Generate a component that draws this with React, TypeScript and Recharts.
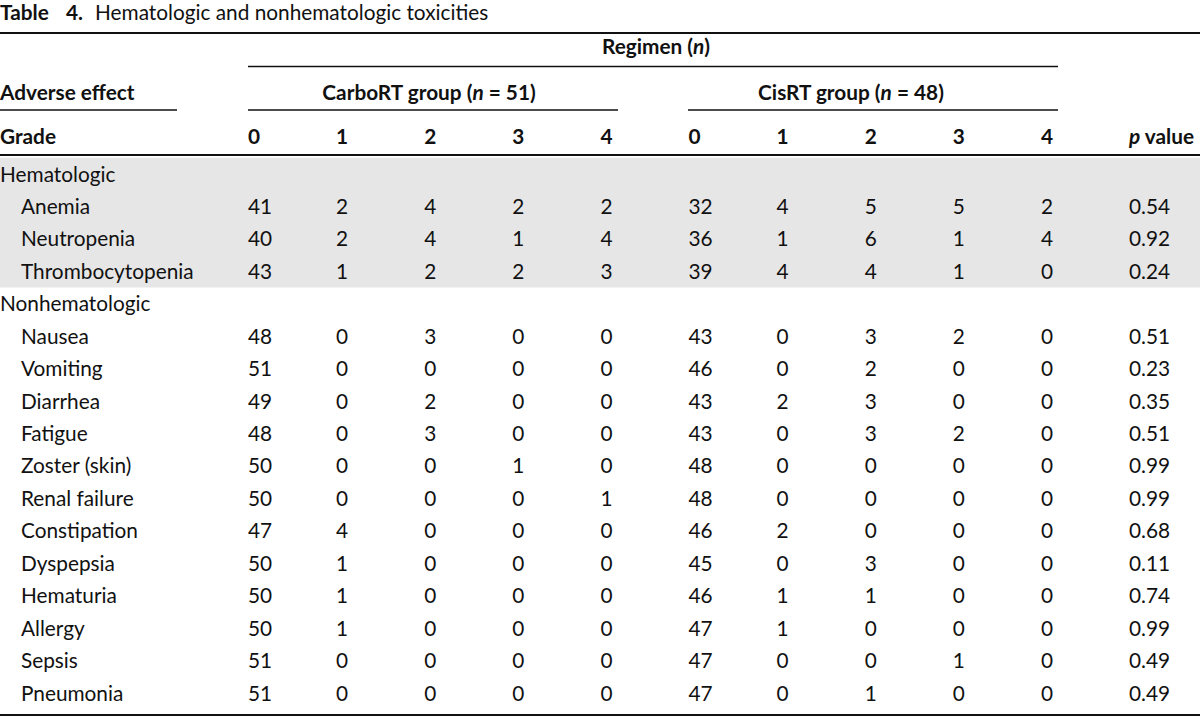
import {
  Customized,
  ReferenceArea,
  Scatter,
  ScatterChart,
  XAxis,
  YAxis,
} from 'recharts';

const FONT = 'Lato, "Open Sans", sans-serif';
const FS = 20.8;
const INK = '#111111';

// table data
const hematologicEffects = ['Anemia', 'Neutropenia', 'Thrombocytopenia'];
const nonhematologicEffects = [
  'Nausea',
  'Vomiting',
  'Diarrhea',
  'Fatigue',
  'Zoster (skin)',
  'Renal failure',
  'Constipation',
  'Dyspepsia',
  'Hematuria',
  'Allergy',
  'Sepsis',
  'Pneumonia',
];

// grade 0..4 counts, one row per effect (hematologic first)
const carboRT = [
  [41, 2, 4, 2, 2],
  [40, 2, 4, 1, 4],
  [43, 1, 2, 2, 3],
  [48, 0, 3, 0, 0],
  [51, 0, 0, 0, 0],
  [49, 0, 2, 0, 0],
  [48, 0, 3, 0, 0],
  [50, 0, 0, 1, 0],
  [50, 0, 0, 0, 1],
  [47, 4, 0, 0, 0],
  [50, 1, 0, 0, 0],
  [50, 1, 0, 0, 0],
  [50, 1, 0, 0, 0],
  [51, 0, 0, 0, 0],
  [51, 0, 0, 0, 0],
];

const cisRT = [
  [32, 4, 5, 5, 2],
  [36, 1, 6, 1, 4],
  [39, 4, 4, 1, 0],
  [43, 0, 3, 2, 0],
  [46, 0, 2, 0, 0],
  [43, 2, 3, 0, 0],
  [43, 0, 3, 2, 0],
  [48, 0, 0, 0, 0],
  [48, 0, 0, 0, 0],
  [46, 2, 0, 0, 0],
  [45, 0, 3, 0, 0],
  [46, 1, 1, 0, 0],
  [47, 1, 0, 0, 0],
  [47, 0, 0, 1, 0],
  [47, 0, 1, 0, 0],
];

const pValues = [
  '0.54', '0.92', '0.24', '0.51', '0.23', '0.35', '0.51', '0.99',
  '0.99', '0.68', '0.11', '0.74', '0.99', '0.49', '0.49',
];

const grades = ['0', '1', '2', '3', '4'];
const columnHeaders = [...grades, ...grades, 'p value'];

// rows of the table body, group titles included
type Row = { label: string; group: boolean; effect?: number };
const rows: Row[] = [];
let effectIdx = 0;
[
  { title: 'Hematologic', items: hematologicEffects },
  { title: 'Nonhematologic', items: nonhematologicEffects },
].forEach((g) => {
  rows.push({ label: g.title, group: true });
  g.items.forEach((name) => {
    rows.push({ label: name, group: false, effect: effectIdx++ });
  });
});

// one point per filled cell: ri = row, ci = column
const cells: { ri: number; ci: number; v: string }[] = [];
rows.forEach((r, ri) => {
  if (r.effect === undefined) return;
  const vals = [
    ...carboRT[r.effect].map(String),
    ...cisRT[r.effect].map(String),
    pValues[r.effect],
  ];
  vals.forEach((v, ci) => cells.push({ ri, ci, v }));
});

const HEADER_BASE = 144;

const GradeTick = (props: any) => {
  const { x, payload } = props;
  const label = columnHeaders[payload.value];
  return (
    <text x={x} y={HEADER_BASE} fontFamily={FONT} fontSize={FS} fontWeight={700} fill={INK}>
      {label === 'p value' ? (
        <>
          <tspan fontStyle="italic">p</tspan>
          <tspan> value</tspan>
        </>
      ) : (
        label
      )}
    </text>
  );
};

const RowTick = (props: any) => {
  const { y, payload } = props;
  const row = rows[payload.value];
  if (!row) return null;
  return (
    <text x={row.group ? 0 : 21} y={y + 7.5} fontFamily={FONT} fontSize={FS} fill={INK}>
      {row.label}
    </text>
  );
};

const Cell = (props: any) => {
  const { cx, cy, payload } = props;
  return (
    <text x={cx} y={cy + 7.5} fontFamily={FONT} fontSize={FS} fill={INK}>
      {payload.v}
    </text>
  );
};

const TableFrame = () => {
  const bold = { fontFamily: FONT, fontSize: FS, fontWeight: 700, fill: INK };
  return (
    <g>
      <text x={0} y={20} {...bold}>Table</text>
      <text x={66} y={20} {...bold}>4.</text>
      <text x={95} y={20} fontFamily={FONT} fontSize={FS} fill={INK}>
        Hematologic and nonhematologic toxicities
      </text>

      <line x1={0} x2={1200} y1={33} y2={33} stroke={INK} strokeWidth={2} />

      <text x={656} y={54} textAnchor="middle" {...bold}>
        Regimen (<tspan fontStyle="italic">n</tspan>)
      </text>
      <line x1={248} x2={1058} y1={66.5} y2={66.5} stroke={INK} strokeWidth={1.5} />

      <text x={0} y={100} {...bold}>Adverse effect</text>
      <text x={429} y={100} textAnchor="middle" {...bold}>
        CarboRT group (<tspan fontStyle="italic">n</tspan> = 51)
      </text>
      <text x={851} y={100} textAnchor="middle" {...bold}>
        CisRT group (<tspan fontStyle="italic">n</tspan> = 48)
      </text>
      <line x1={0} x2={177} y1={110} y2={110} stroke={INK} strokeWidth={1.5} />
      <line x1={248} x2={618} y1={110} y2={110} stroke={INK} strokeWidth={1.5} />
      <line x1={688} x2={1058} y1={110} y2={110} stroke={INK} strokeWidth={1.5} />

      <text x={0} y={HEADER_BASE} {...bold}>Grade</text>
      <line x1={0} x2={1200} y1={155} y2={155} stroke={INK} strokeWidth={2} />
      <line x1={0} x2={1200} y1={715} y2={715} stroke={INK} strokeWidth={2} />
    </g>
  );
};

const BandShape = (props: any) => (
  <rect x={0} y={props.y} width={1200} height={props.height} fill="#e6e6e6" />
);

export default function App() {
  return (
    <div style={{ position: 'absolute', left: 0, top: 0, width: 1200, height: 717, background: '#fff' }}>
      <ScatterChart
        width={1200}
        height={717}
        margin={{ top: 134, right: 71, bottom: 24, left: 0 }}
      >
        <ReferenceArea
          y1={-0.5}
          y2={hematologicEffects.length + 0.5}
          ifOverflow="visible"
          shape={<BandShape />}
        />
        <XAxis
          type="number"
          dataKey="ci"
          orientation="top"
          domain={[0, columnHeaders.length - 1]}
          ticks={columnHeaders.map((_, i) => i)}
          interval={0}
          height={40}
          axisLine={false}
          tickLine={false}
          tick={<GradeTick />}
        />
        <YAxis
          type="number"
          dataKey="ri"
          domain={[0, rows.length - 1]}
          ticks={rows.map((_, i) => i)}
          interval={0}
          reversed
          width={248}
          axisLine={false}
          tickLine={false}
          tick={<RowTick />}
        />
        <Scatter data={cells} shape={<Cell />} isAnimationActive={false} />
        <Customized component={<TableFrame />} />
      </ScatterChart>
    </div>
  );
}
